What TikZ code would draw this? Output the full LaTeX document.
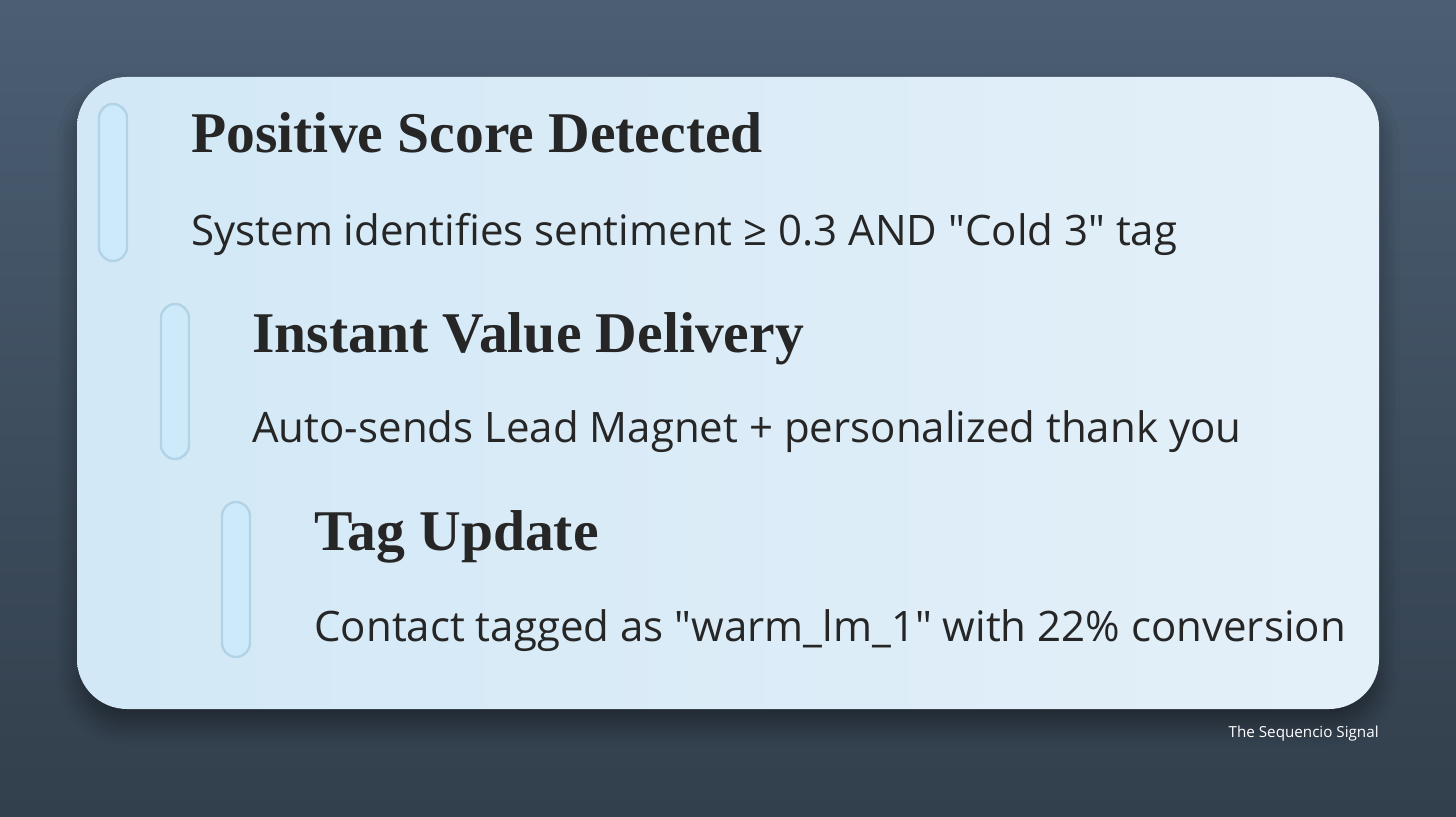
\documentclass[tikz,border=0pt]{standalone}
\usepackage{fontspec}
\setmainfont{Liberation Serif}
\setsansfont{Open Sans}[Ligatures=TeXOff]
\usepackage{tikz}
\usetikzlibrary{positioning,shadows.blur}
\definecolor{bgtop}{HTML}{4B5E73}
\definecolor{bgbot}{HTML}{323F4C}
\definecolor{cardleft}{HTML}{D2E8F6}
\definecolor{cardright}{HTML}{E4F0F9}
\definecolor{pillfill}{HTML}{CDEAFB}
\definecolor{pilledge}{HTML}{B2D3E6}
\definecolor{ink}{HTML}{262626}

\begin{document}
\begin{tikzpicture}[x=0.5pt,y=-0.5pt,
        every node/.style = {inner sep=0, anchor=base west, text=ink},
        title/.style = {font=\fontsize{28.8}{32}\selectfont\bfseries},
        body/.style = {font=\sffamily\fontsize{21}{25}\selectfont},
        pill/.style = {draw=pilledge, fill=pillfill, line width=1.2pt, rounded corners=7pt}
        ]
        % background and card
        \shade[top color=bgtop, bottom color=bgbot] (0,0) rectangle (1456,817);
        \useasboundingbox (0,0) rectangle (1456,817);
        \shade[left color=cardleft, right color=cardright, rounded corners=25pt,
               blur shadow={shadow xshift=0pt, shadow yshift=-8pt, shadow blur radius=10pt, shadow blur steps=10, shadow opacity=40}]
               (77,77) rectangle (1379,709);
        % pills
        \draw[pill] (99,104) rectangle (127,261);
        \draw[pill] (161,304) rectangle (189,459);
        \draw[pill] (222,502) rectangle (250,657);
        % steps
        \node[title] (t1) at (191,153) {Positive Score Detected};
        \node[body]  (d1) at (191,246) {System identifies sentiment ≥ 0.3 AND "Cold 3" tag};
        \node[title] (t2) at (252,353) {Instant Value Delivery};
        \node[body]  (d2) at (252,443) {Auto-sends Lead Magnet + personalized thank you};
        \node[title] (t3) at (314,551) {Tag Update};
        \node[body]  (d3) at (314,641) {Contact tagged as "warm\_lm\_1" with 22\% conversion};
        % footer
        \node[anchor=base east, text=white, font=\sffamily\fontsize{7.6}{9}\selectfont] (sig) at (1379,737) {The Sequencio Signal};
        \end{tikzpicture}
\end{document}
